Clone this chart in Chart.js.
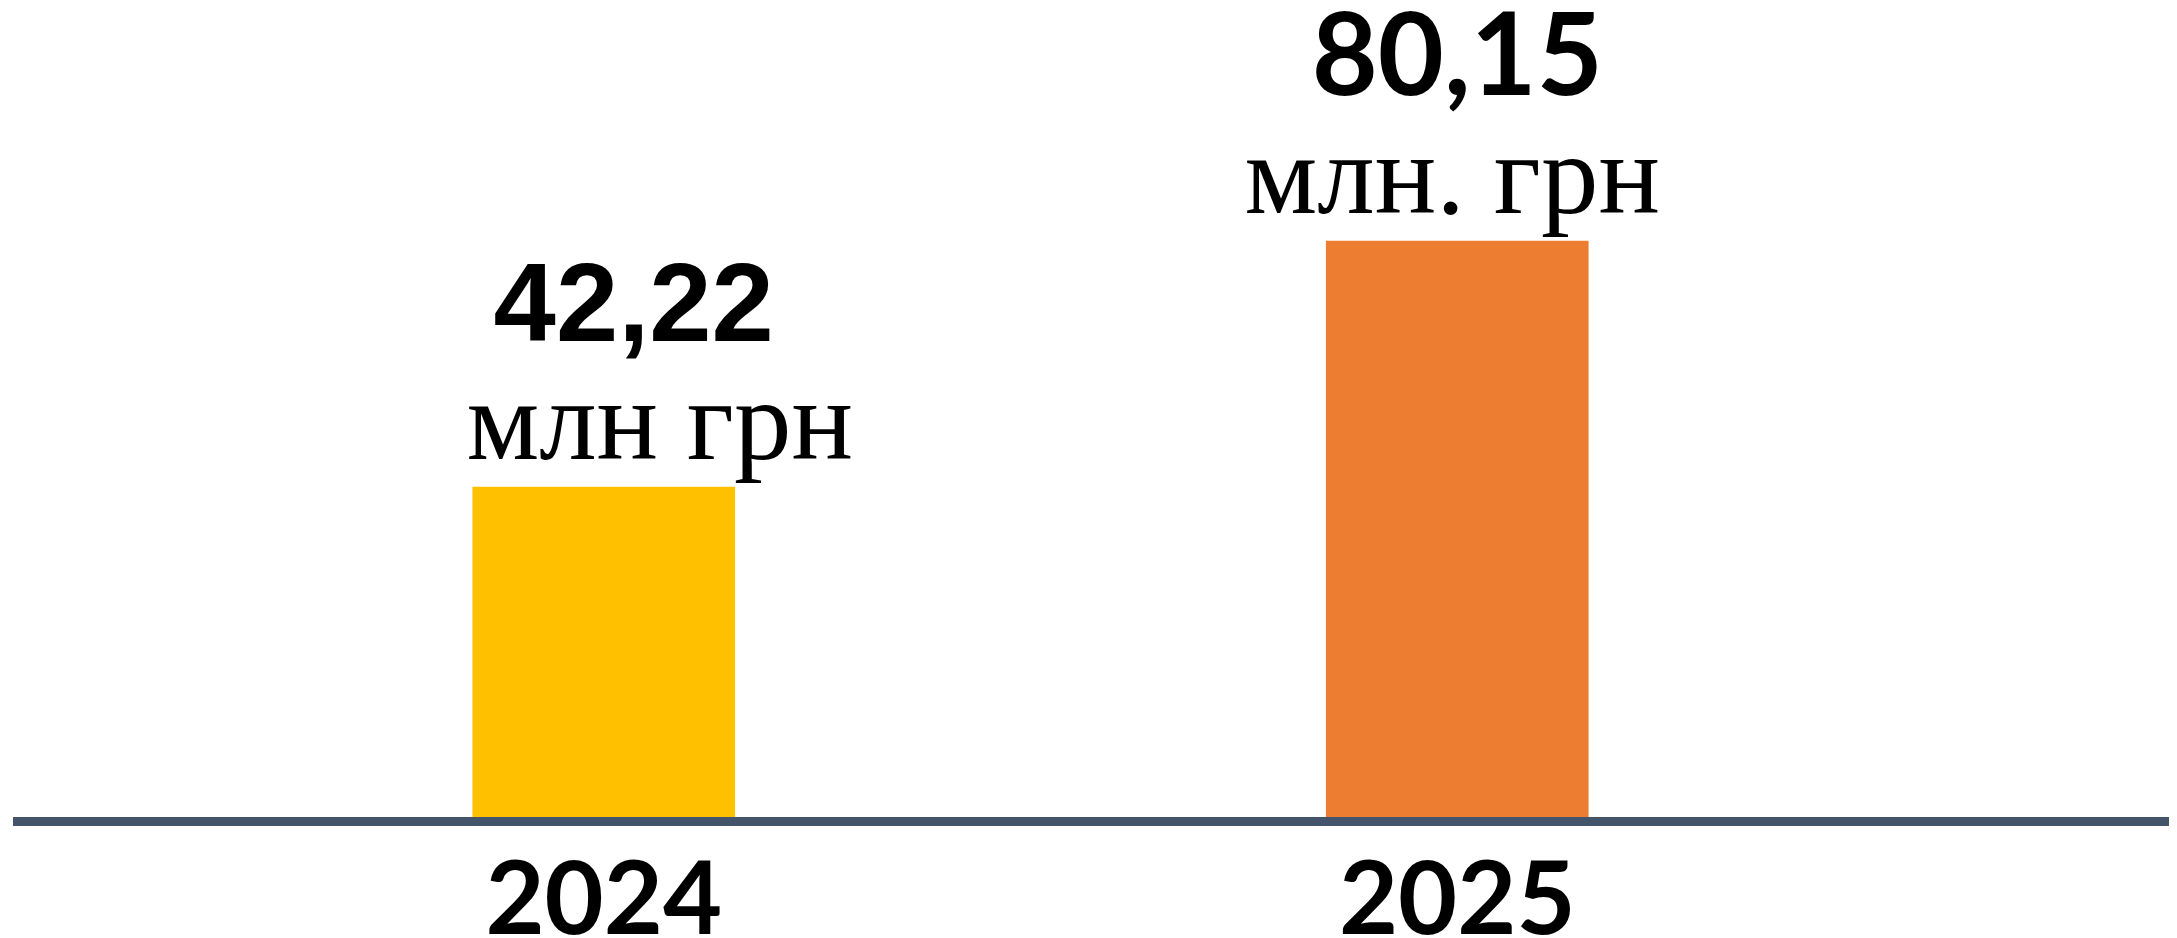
<!DOCTYPE html>
<html lang="uk">
<head>
<meta charset="utf-8">
<title>Обсяг, млн грн</title>
<script src="https://cdn.jsdelivr.net/npm/chart.js@4/dist/chart.umd.min.js"></script>
<style>
  html, body { margin: 0; padding: 0; background: #ffffff; }
  canvas { display: block; }
</style>
</head>
<body>
<canvas id="amount-chart" width="2177" height="938"></canvas>
<script>
// Chart data
const years = ["2024", "2025"];
const amounts = [42.22, 80.15];
const units = ["млн грн", "млн. грн"];
const barColors = ["#FFC000", "#ED7D31"];

// Value axis range (baseline of bars sits below zero in the source chart)
const yAxisRange = [-8.66, 117.3];

function formatAmount(v) {
  return v.toFixed(2).replace(".", ",");
}

// Draws the value and unit above each bar
const barLabels = {
  id: "barLabels",
  afterDatasetsDraw(chart, args, opts) {
    const ctx = chart.ctx;
    const meta = chart.getDatasetMeta(0);
    meta.data.forEach((bar, i) => {
      ctx.save();
      ctx.fillStyle = "#000000";
      ctx.textAlign = "center";
      ctx.textBaseline = "alphabetic";
      ctx.font = opts.valueFonts[i];
      ctx.fillText(formatAmount(amounts[i]), bar.x + opts.valueShift[i], bar.y - opts.valueGap);
      ctx.font = opts.unitFont;
      ctx.fillText(units[i], bar.x + opts.unitShift[i], bar.y - opts.unitGap);
      ctx.restore();
    });
  }
};

// Thick baseline running across the whole picture
const baseLine = {
  id: "baseLine",
  afterDatasetsDraw(chart, args, opts) {
    const ctx = chart.ctx;
    const y = chart.chartArea.bottom + opts.width / 2;
    ctx.save();
    ctx.strokeStyle = opts.color;
    ctx.lineWidth = opts.width;
    ctx.beginPath();
    ctx.moveTo(opts.left, y);
    ctx.lineTo(chart.width - opts.right, y);
    ctx.stroke();
    ctx.restore();
  }
};

document.addEventListener("DOMContentLoaded", () => {
  const ctx = document.getElementById("amount-chart").getContext("2d");

  new Chart(ctx, {
    type: "bar",
    data: {
      labels: years,
      datasets: [{
        data: amounts,
        backgroundColor: barColors,
        borderWidth: 0,
        barThickness: 262,
        base: yAxisRange[0]
      }]
    },
    options: {
      responsive: false,
      animation: false,
      layout: { padding: { left: 177, right: 293, top: 0, bottom: 0 } },
      plugins: {
        legend: { display: false },
        tooltip: { enabled: false },
        barLabels: {
          valueShift: [30, 0],
          unitShift: [56, -5],
          valueFonts: ["bold 112px 'Liberation Sans'", "bold 114px Lato"],
          unitFont: "115px 'Liberation Serif'",
          valueGap: 146,
          unitGap: 28
        },
        baseLine: { color: "#44546A", width: 9, left: 13, right: 8 }
      },
      scales: {
        x: {
          grid: { display: false },
          border: { display: false },
          ticks: {
            color: "#000000",
            padding: 15,
            font: { family: "Lato", size: 102, weight: "bold" }
          },
          afterFit: (scale) => { scale.height = 121; }
        },
        y: {
          display: false,
          min: yAxisRange[0],
          max: yAxisRange[1]
        }
      }
    },
    plugins: [barLabels, baseLine]
  });
});
</script>
</body>
</html>
